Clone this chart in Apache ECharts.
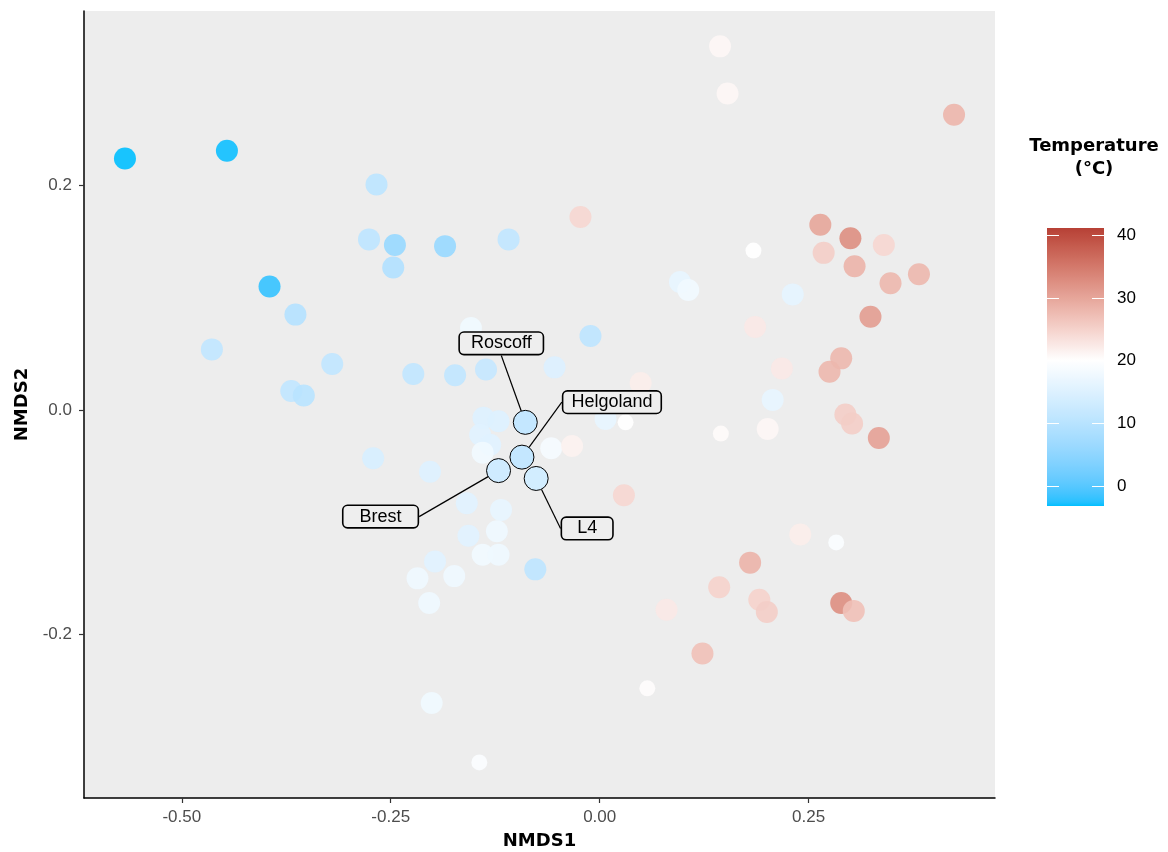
<!DOCTYPE html>
<html>
<head>
<meta charset="utf-8">
<script src="https://cdn.jsdelivr.net/npm/echarts@6/dist/echarts.min.js"></script>
<style>
  html, body { margin: 0; padding: 0; background: #ffffff; }
  #chart { width: 1168px; height: 852px; }
</style>
</head>
<body>
<div id="chart"></div>
<script>
// ---- Samples: NMDS coordinates, water temperature (°C) and sample class ----
const nmds1 = [
  -0.568, -0.446, -0.267, -0.276, -0.245, -0.185, -0.247, -0.395, -0.364, -0.154,
  -0.464, -0.320, -0.223, -0.173, -0.136, -0.369, -0.354, -0.109, -0.011, -0.054,
  -0.023,  0.049, -0.139, -0.121, -0.143, -0.131, -0.140, -0.203, -0.058, -0.033,
  -0.159, -0.118, -0.157, -0.123, -0.140, -0.121, -0.197, -0.077, -0.218, -0.174,
  -0.204, -0.271, -0.201, -0.144,  0.007,  0.031,  0.144,  0.153,  0.424,  0.264,
   0.300,  0.340,  0.268,  0.305,  0.382,  0.348,  0.184,  0.096,  0.106,  0.231,
   0.324,  0.186,  0.289,  0.275,  0.218,  0.207,  0.294,  0.302,  0.334,  0.145,
   0.201,  0.029,  0.240,  0.283,  0.180,  0.143,  0.080,  0.191,  0.200,  0.289,
   0.304,  0.123,  0.057
];
const nmds2 = [
   0.224,  0.231,  0.201,  0.152,  0.147,  0.146,  0.127,  0.110,  0.085,  0.073,
   0.054,  0.041,  0.032,  0.031,  0.036,  0.017,  0.013,  0.152,  0.066,  0.038,
   0.172,  0.024, -0.007, -0.010, -0.022, -0.031, -0.038, -0.055, -0.034, -0.032,
  -0.083, -0.089, -0.112, -0.108, -0.129, -0.129, -0.135, -0.142, -0.150, -0.148,
  -0.172, -0.043, -0.261, -0.314, -0.008, -0.011,  0.324,  0.282,  0.263,  0.165,
   0.153,  0.147,  0.140,  0.128,  0.121,  0.113,  0.142,  0.114,  0.107,  0.103,
   0.083,  0.074,  0.046,  0.034,  0.037,  0.009, -0.004, -0.012, -0.025, -0.021,
  -0.017, -0.076, -0.111, -0.118, -0.136, -0.158, -0.178, -0.169, -0.180, -0.172,
  -0.179, -0.217, -0.248
];
const temperature = [
  -3.2, -3.0, 10.4, 10.5,  6.0,  6.0,  9.0, -2.0,  9.5, 17.8,
  11.0, 11.0, 11.0, 11.0, 11.5, 11.0, 10.0, 11.0, 10.5, 14.7,
  24.5, 22.0, 15.0, 15.0, 15.5, 15.5, 18.0, 15.0, 18.5, 21.5,
  15.5, 16.5, 15.5, 17.5, 18.0, 17.5, 15.5, 10.5, 17.5, 17.5,
  17.5, 14.0, 17.8, 19.5, 16.5, 20.0, 21.0, 21.0, 28.2, 30.0,
  32.5, 24.5, 25.5, 28.5, 28.0, 28.0, 20.0, 16.5, 18.0, 16.0,
  31.0, 22.5, 28.0, 28.0, 22.5, 16.5, 25.5, 25.5, 30.5, 20.5,
  21.0, 24.5, 22.0, 19.3, 28.5, 25.0, 22.5, 25.0, 25.5, 32.5,
  27.0, 27.0, 20.3
];
// 1 = regular sample, 2 = reduced sample
const sampleClass = [
  1, 1, 1, 1, 1, 1, 1, 1, 1, 1,
  1, 1, 1, 1, 1, 1, 1, 1, 1, 1,
  1, 1, 1, 1, 1, 1, 1, 1, 1, 1,
  1, 1, 1, 1, 1, 1, 1, 1, 1, 1,
  1, 1, 1, 2, 1, 2, 1, 1, 1, 1,
  1, 1, 1, 1, 1, 1, 2, 1, 1, 1,
  1, 1, 1, 1, 1, 1, 1, 1, 1, 2,
  1, 1, 1, 2, 1, 1, 1, 1, 1, 1,
  1, 1, 2
];

// ---- Reference sites ----
const siteNames = ['Roscoff', 'Helgoland', 'Brest', 'L4'];
const siteNmds1 = [-0.089, -0.093, -0.121, -0.076];
const siteNmds2 = [-0.011, -0.042, -0.054, -0.061];
const siteTemp  = [11.5, 11.5, 13.0, 13.5];

// ---- Axis ticks and colour-scale range ----
const xTicks = [-0.5, -0.25, 0, 0.25];
const yTicks = [-0.2, 0, 0.2];
const legendTicks = [0, 10, 20, 30, 40];
const tempLimits = [-3.2, 41.1];
const tempMid = 20;

// Label placement (pixel offsets from each site) and box padding
const siteLabelStyle = {
  Roscoff:   { dx: -24, dy: -79, pad: 11 },
  Helgoland: { dx: 90,  dy: -55, pad: 8 },
  Brest:     { dx: -118, dy: 46, pad: 16 },
  L4:        { dx: 51,  dy: 50,  pad: 15 }
};

// ---- Diverging colour scale interpolated in CIE Lab ----
const LOW = [0, 191, 255], MID = [255, 255, 255], HIGH = [172, 40, 36];
function toLin(c) { c /= 255; return c <= 0.04045 ? c / 12.92 : Math.pow((c + 0.055) / 1.055, 2.4); }
function fromLin(c) {
  const v = c <= 0.0031308 ? 12.92 * c : 1.055 * Math.pow(c, 1 / 2.4) - 0.055;
  return Math.round(Math.max(0, Math.min(1, v)) * 255);
}
const WN = [0.95047, 1.0, 1.08883];
function rgb2lab(rgb) {
  const [r, g, b] = rgb.map(toLin);
  const X = (0.4124564 * r + 0.3575761 * g + 0.1804375 * b) / WN[0];
  const Y = (0.2126729 * r + 0.7151522 * g + 0.0721750 * b) / WN[1];
  const Z = (0.0193339 * r + 0.1191920 * g + 0.9503041 * b) / WN[2];
  const f = t => t > 0.008856 ? Math.cbrt(t) : 7.787 * t + 16 / 116;
  const fx = f(X), fy = f(Y), fz = f(Z);
  return [116 * fy - 16, 500 * (fx - fy), 200 * (fy - fz)];
}
function lab2rgb(lab) {
  const fy = (lab[0] + 16) / 116, fx = fy + lab[1] / 500, fz = fy - lab[2] / 200;
  const inv = t => t * t * t > 0.008856 ? t * t * t : (t - 16 / 116) / 7.787;
  const X = inv(fx) * WN[0], Y = inv(fy) * WN[1], Z = inv(fz) * WN[2];
  const r =  3.2404542 * X - 1.5371385 * Y - 0.4985314 * Z;
  const g = -0.9692660 * X + 1.8760108 * Y + 0.0415560 * Z;
  const b =  0.0556434 * X - 0.2040259 * Y + 1.0572252 * Z;
  return [fromLin(r), fromLin(g), fromLin(b)];
}
const LAB_LOW = rgb2lab(LOW), LAB_MID = rgb2lab(MID), LAB_HIGH = rgb2lab(HIGH);
function tempColor(t) {
  const half = Math.max(tempMid - tempLimits[0], tempLimits[1] - tempMid);
  const p = Math.max(0, Math.min(1, 0.5 + (t - tempMid) / (2 * half)));
  let a, b, f;
  if (p < 0.5) { a = LAB_LOW; b = LAB_MID; f = p / 0.5; }
  else { a = LAB_MID; b = LAB_HIGH; f = (p - 0.5) / 0.5; }
  const lab = [0, 1, 2].map(i => a[i] + (b[i] - a[i]) * f);
  const c = lab2rgb(lab);
  return 'rgb(' + c[0] + ',' + c[1] + ',' + c[2] + ')';
}
const NSTOPS = 89;
const scaleStops = [];
for (let i = 0; i < NSTOPS; i++) {
  scaleStops.push(tempColor(tempLimits[0] + (tempLimits[1] - tempLimits[0]) * i / (NSTOPS - 1)));
}

// ---- Series data ----
const sampleData = nmds1.map((x, i) => [x, nmds2[i], temperature[i], sampleClass[i]]);
const siteData = siteNames.map((n, i) => ({
  name: n,
  value: [siteNmds1[i], siteNmds2[i], siteTemp[i]],
  label: { padding: [1, siteLabelStyle[n].pad] }
}));

// ---- Colour bar geometry ----
const bar = { x: 1047, y: 228, w: 57, h: 278 };
const barY = v => bar.y + (tempLimits[1] - v) / (tempLimits[1] - tempLimits[0]) * bar.h;
const gradStops = [];
for (let i = 0; i < NSTOPS; i++) {
  const v = tempLimits[1] - (tempLimits[1] - tempLimits[0]) * i / (NSTOPS - 1);
  gradStops.push({ offset: i / (NSTOPS - 1), color: tempColor(v) });
}
const legendElements = [
  {
    type: 'text', x: 1094, y: 146,
    style: { text: 'Temperature', font: 'bold 18px "DejaVu Sans"', fill: '#000',
             textAlign: 'center', textVerticalAlign: 'middle' }
  },
  {
    type: 'text', x: 1094, y: 169,
    style: { text: '(°C)', font: 'bold 18px "DejaVu Sans"', fill: '#000',
             textAlign: 'center', textVerticalAlign: 'middle' }
  },
  {
    type: 'rect', shape: { x: bar.x, y: bar.y, width: bar.w, height: bar.h },
    style: { fill: new echarts.graphic.LinearGradient(0, 0, 0, 1, gradStops) }
  }
];
legendTicks.forEach(v => {
  const y = Math.round(barY(v)) + 0.5;
  legendElements.push(
    { type: 'line', shape: { x1: bar.x, y1: y, x2: bar.x + 12, y2: y }, style: { stroke: '#fff', lineWidth: 1 } },
    { type: 'line', shape: { x1: bar.x + bar.w - 12, y1: y, x2: bar.x + bar.w, y2: y }, style: { stroke: '#fff', lineWidth: 1 } },
    { type: 'text', x: 1117, y: y,
      style: { text: String(v), font: '17px "Liberation Sans"', fill: '#000', textAlign: 'left', textVerticalAlign: 'middle' } }
  );
});

// ---- Chart ----
const chart = echarts.init(document.getElementById('chart'), null, { renderer: 'canvas' });
chart.setOption({
  animation: false,
  backgroundColor: '#ffffff',
  grid: {
    left: 84, right: 173, top: 11, bottom: 54,
    outerBoundsMode: 'none',
    show: true, backgroundColor: '#ededed', borderWidth: 0
  },
  xAxis: {
    type: 'value', min: -0.617, max: 0.473,
    splitLine: { show: false },
    axisLine: { onZero: false, lineStyle: { color: '#000', width: 1.5 } },
    axisTick: { customValues: xTicks, length: 5, lineStyle: { color: '#333', width: 1.2 } },
    axisLabel: {
      customValues: xTicks, formatter: v => v.toFixed(2),
      color: '#4d4d4d', fontSize: 17, fontFamily: 'Liberation Sans', margin: 11
    },
    name: 'NMDS1', nameLocation: 'middle', nameGap: 34,
    nameTextStyle: { fontFamily: 'DejaVu Sans', fontWeight: 'bold', fontSize: 18, color: '#000' }
  },
  yAxis: {
    type: 'value', min: -0.3457, max: 0.3555,
    splitLine: { show: false },
    axisLine: { onZero: false, lineStyle: { color: '#000', width: 1.5 } },
    axisTick: { customValues: yTicks, length: 5, lineStyle: { color: '#333', width: 1.2 } },
    axisLabel: {
      customValues: yTicks, formatter: v => v.toFixed(1),
      color: '#4d4d4d', fontSize: 17, fontFamily: 'Liberation Sans', margin: 12
    },
    name: 'NMDS2', nameLocation: 'middle', nameGap: 51, nameRotate: 90,
    nameTextStyle: { fontFamily: 'DejaVu Sans', fontWeight: 'bold', fontSize: 18, color: '#000' }
  },
  visualMap: {
    type: 'continuous', show: false, dimension: 2,
    min: tempLimits[0], max: tempLimits[1],
    seriesIndex: [0, 1],
    inRange: { color: scaleStops }
  },
  series: [
    {
      type: 'scatter',
      data: sampleData,
      symbolSize: v => (v[3] === 2 ? 16 : 22),
      itemStyle: { opacity: 0.9 },
      z: 2
    },
    {
      type: 'scatter',
      data: siteData,
      symbolSize: 24,
      itemStyle: { opacity: 1, borderColor: '#000', borderWidth: 1 },
      label: {
        show: true, position: 'inside', formatter: '{b}',
        fontFamily: 'Liberation Sans', fontSize: 18, color: '#000', lineHeight: 19,
        backgroundColor: '#eeeeee', borderColor: '#000', borderWidth: 1.6, borderRadius: 4
      },
      labelLine: { show: true, lineStyle: { color: '#000', width: 1.2 } },
      labelLayout: params => {
        const s = siteLabelStyle[siteNames[params.dataIndex]];
        return { dx: s.dx, dy: s.dy };
      },
      z: 3
    }
  ],
  graphic: { elements: legendElements }
});
</script>
</body>
</html>
